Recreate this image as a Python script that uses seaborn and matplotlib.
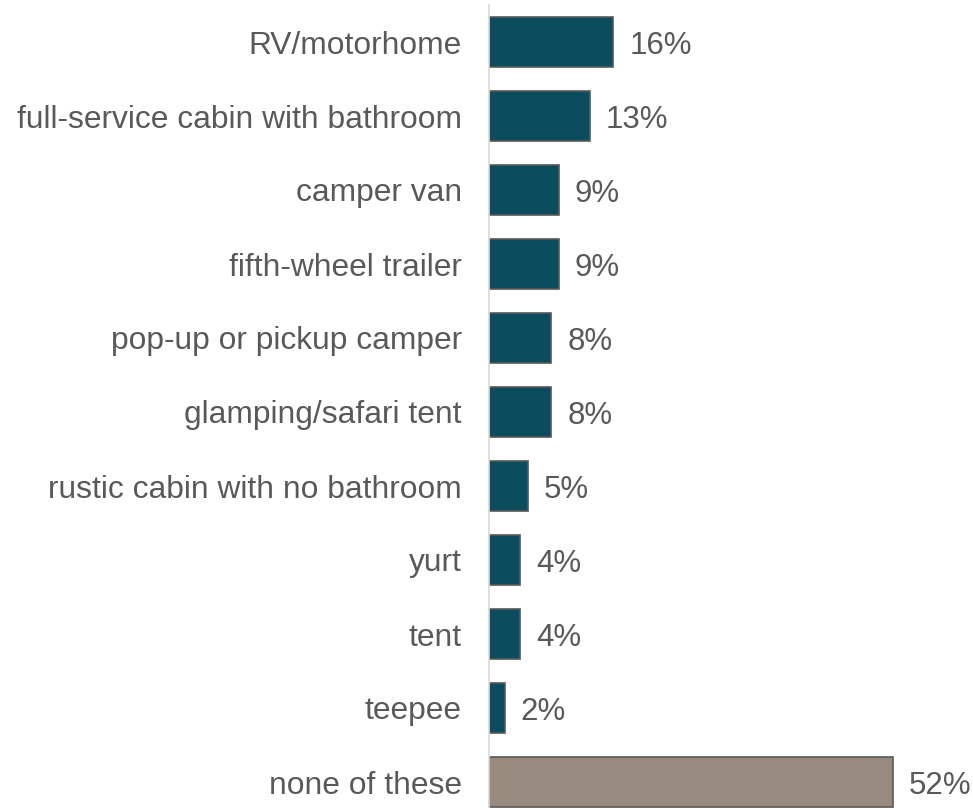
import matplotlib
matplotlib.use("Agg")
import matplotlib.pyplot as plt
import seaborn as sns
import pandas as pd

categories = [
    "RV/motorhome",
    "full-service cabin with bathroom",
    "camper van",
    "fifth-wheel trailer",
    "pop-up or pickup camper",
    "glamping/safari tent",
    "rustic cabin with no bathroom",
    "yurt",
    "tent",
    "teepee",
    "none of these",
]
values = [16, 13, 9, 9, 8, 8, 5, 4, 4, 2, 52]
bar_colors = ["#0b4d5e"] * 10 + ["#998a7f"]

df = pd.DataFrame({"category": categories, "value": values})

sns.set_theme(style="white")
plt.rcParams["font.family"] = ["Liberation Sans", "DejaVu Sans"]

W, H = 973, 808
fig = plt.figure(figsize=(W / 100, H / 100), dpi=100)
ax_left = 489 / W
ax = fig.add_axes([ax_left, 0.0, 1 - ax_left, 1 - 5 / H])

sns.barplot(
    data=df, x="value", y="category", hue="category",
    palette=bar_colors, saturation=1, legend=False, orient="h", width=0.67,
    edgecolor="#595959", linewidth=1.2, ax=ax,
)

px_per_unit = (893 - 489) / 52
ax.set_xlim(0, (W - 489) / px_per_unit)
ax.set_ylim(10 + (808 - 782) / 74, -0.5)

text_color = "#595959"
fs = 22.5
for i, v in enumerate(values):
    ax.text(v + 16 / px_per_unit, i, f"{v}%", va="center_baseline", ha="left",
            fontsize=fs, color=text_color)

ax.set_xlabel("")
ax.set_ylabel("")
ax.set_xticks([])
ax.tick_params(axis="y", length=0, pad=19.5, labelsize=22.9, labelcolor=text_color)
for lbl in ax.get_yticklabels():
    lbl.set_verticalalignment("center_baseline")
for side in ["top", "right", "bottom"]:
    ax.spines[side].set_visible(False)
ax.spines["left"].set_color("#d9d9d9")
ax.spines["left"].set_linewidth(1.2)

fig.savefig("out.png", dpi=100)
